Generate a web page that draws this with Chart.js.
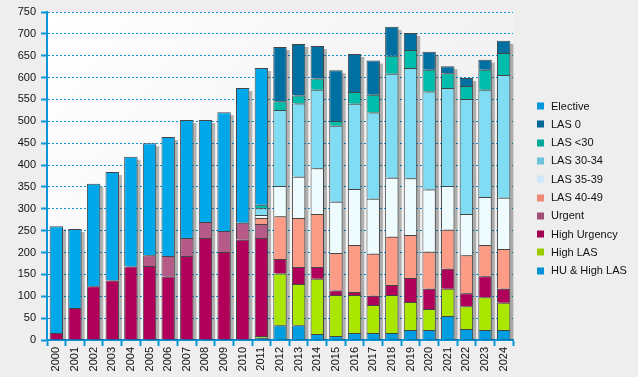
<!DOCTYPE html>
<html>
<head>
<meta charset="utf-8">
<script src="https://cdn.jsdelivr.net/npm/chart.js@4"></script>
<style>
  html, body { margin: 0; padding: 0; background: #eeeeee; }
  #wrap { width: 638px; height: 377px; }
</style>
</head>
<body>
<div id="wrap"><canvas id="chart" width="638" height="377"></canvas></div>
<script>
// Categories
const years = ['2000', '2001', '2002', '2003', '2004', '2005', '2006', '2007', '2008', '2009', '2010', '2011',
    '2012', '2013', '2014', '2015', '2016', '2017', '2018', '2019', '2020', '2021', '2022', '2023', '2024'];

// Series, bottom of the stack first
const huHighLas   = [0, 0, 0, 0, 0, 0, 0, 0, 0, 0, 0, 5, 34, 34, 14, 9, 16, 16, 16, 23, 23, 55, 25, 23, 23];
const highLas     = [0, 0, 0, 0, 0, 0, 0, 0, 0, 0, 0, 4, 118, 94, 126, 94, 87, 64, 87, 64, 48, 62, 52, 75, 62];
const highUrgency = [16, 73, 123, 136, 168, 169, 145, 192, 233, 201, 229, 224, 33, 39, 27, 10, 7, 21, 23, 55, 46, 46, 30, 48, 32];
const urgent      = [0, 0, 0, 0, 0, 25, 47, 41, 37, 48, 39, 32, 0, 0, 0, 0, 0, 0, 0, 0, 0, 0, 0, 0, 0];
const las4049     = [0, 0, 0, 0, 0, 0, 0, 0, 0, 0, 0, 14, 98, 112, 121, 86, 107, 96, 110, 98, 85, 89, 87, 71, 91];
const las3539     = [0, 0, 0, 0, 0, 0, 0, 0, 0, 0, 0, 7, 69, 94, 105, 117, 128, 126, 135, 130, 142, 100, 94, 110, 117];
const las3034     = [0, 0, 0, 0, 0, 0, 0, 0, 0, 0, 0, 15, 174, 168, 179, 174, 195, 197, 238, 252, 224, 224, 263, 245, 281];
const lasUnder30  = [0, 0, 0, 0, 0, 0, 0, 0, 0, 0, 0, 8, 20, 18, 26, 11, 27, 41, 41, 41, 50, 34, 30, 46, 50];
const las0        = [0, 0, 0, 0, 0, 0, 0, 0, 0, 0, 0, 0, 124, 118, 74, 116, 87, 78, 66, 39, 41, 16, 18, 23, 28];
const elective    = [244, 181, 234, 248, 251, 256, 272, 270, 233, 272, 308, 313, 0, 0, 0, 0, 0, 0, 0, 0, 0, 0, 0, 0, 0];

const yTicks = { min: 0, max: 750, step: 50 };

const seriesNames = ['HU & High LAS', 'High LAS', 'High Urgency', 'Urgent', 'LAS 40-49', 'LAS 35-39', 'LAS 30-34', 'LAS <30', 'LAS 0', 'Elective'];
const seriesData = [huHighLas, highLas, highUrgency, urgent, las4049, las3539, las3034, lasUnder30, las0, elective];
const barColors = ['#009ee0', '#aae600', '#b0005a', '#b65a88', '#fd9c86', '#eefcfd', '#80dcf2', '#00bcab', '#006fa2', '#00a8ea'];
const legendColors = ['#0091d6', '#99cc00', '#a0004e', '#a24f79', '#f08878', '#cce8f8', '#6dc3d9', '#00a89a', '#006898', '#0096da'];

const BLUE = '#0a96d8';

// background: grey page, light gradient inside the plot
const backgroundPlugin = {
    id: 'background',
    beforeDraw(chart) {
        const { ctx, chartArea: a } = chart;
        ctx.save();
        ctx.fillStyle = '#eeeeee';
        ctx.fillRect(0, 0, chart.width, chart.height);
        const g = ctx.createLinearGradient(a.left, a.top, a.right, a.bottom);
        g.addColorStop(0, '#ffffff');
        g.addColorStop(1, '#ececec');
        ctx.fillStyle = g;
        ctx.fillRect(a.left, a.top, a.right - a.left, a.bottom - a.top);
        ctx.restore();
    }
};

// drop shadow behind each full stack
const shadowPlugin = {
    id: 'stackShadow',
    beforeDatasetsDraw(chart) {
        const { ctx, chartArea: a } = chart;
        const metas = chart.getSortedVisibleDatasetMetas();
        ctx.save();
        ctx.beginPath();
        ctx.rect(a.left, a.top - 20, a.right - a.left + 10, a.bottom - a.top + 20);
        ctx.clip();
        ctx.fillStyle = 'rgba(0,0,0,0.28)';
        years.forEach((_, i) => {
            let top = Infinity, bottom = -Infinity, x = 0, w = 0;
            metas.forEach(m => {
                const el = m.data[i];
                if (!el) return;
                top = Math.min(top, el.y, el.base);
                bottom = Math.max(bottom, el.y, el.base);
                x = el.x;
                w = el.width;
            });
            if (top < bottom) {
                ctx.fillRect(x - w / 2 + 3, top + 3, w, bottom - top);
            }
        });
        ctx.restore();
    }
};

// legend on the right, top entry = top of stack
const legendPlugin = {
    id: 'sideLegend',
    afterDraw(chart) {
        const ctx = chart.ctx;
        ctx.save();
        ctx.font = '11px "Liberation Sans", Arial, sans-serif';
        ctx.textBaseline = 'middle';
        ctx.textAlign = 'left';
        for (let k = 0; k < seriesNames.length; k++) {
            const idx = seriesNames.length - 1 - k;
            const cy = 106 + k * 18.3;
            ctx.fillStyle = legendColors[idx];
            ctx.fillRect(537, Math.round(cy) - 3.5, 7, 7);
            ctx.fillStyle = '#111111';
            ctx.fillText(seriesNames[idx], 551, cy + 0.5);
        }
        ctx.restore();
    }
};

const datasets = seriesNames.map((name, i) => ({
    label: name,
    data: seriesData[i],
    backgroundColor: barColors[i],
    borderColor: '#454545',
    borderWidth: 1,
    borderSkipped: 'bottom',
    barPercentage: 0.72,
    categoryPercentage: 1.0
}));

new Chart(document.getElementById('chart').getContext('2d'), {
    type: 'bar',
    data: { labels: years, datasets: datasets },
    plugins: [backgroundPlugin, shadowPlugin, legendPlugin],
    options: {
        responsive: false,
        animation: false,
        layout: { padding: { top: 12, right: 125, bottom: 0, left: 0 } },
        plugins: {
            legend: { display: false },
            tooltip: { enabled: false }
        },
        scales: {
            x: {
                stacked: true,
                afterFit: (s) => { s.height = 37; },
                grid: {
                    offset: true,
                    drawOnChartArea: false,
                    tickLength: 6,
                    tickColor: BLUE,
                    tickWidth: 2
                },
                border: { color: BLUE, width: 2 },
                ticks: {
                    minRotation: 90,
                    maxRotation: 90,
                    padding: 1,
                    color: '#111111',
                    font: { family: '"Liberation Sans", Arial, sans-serif', size: 11 }
                }
            },
            y: {
                stacked: true,
                min: yTicks.min,
                max: yTicks.max,
                afterFit: (s) => { s.width = 47; },
                grid: {
                    color: BLUE,
                    lineWidth: 1,
                    tickLength: 6,
                    tickColor: BLUE,
                    tickWidth: 2,
                    tickBorderDash: [0, 0]
                },
                border: { color: BLUE, width: 2, dash: [2, 2] },
                ticks: {
                    stepSize: yTicks.step,
                    padding: 5,
                    color: '#111111',
                    font: { family: '"Liberation Sans", Arial, sans-serif', size: 11 }
                }
            }
        }
    }
});
</script>
</body>
</html>
